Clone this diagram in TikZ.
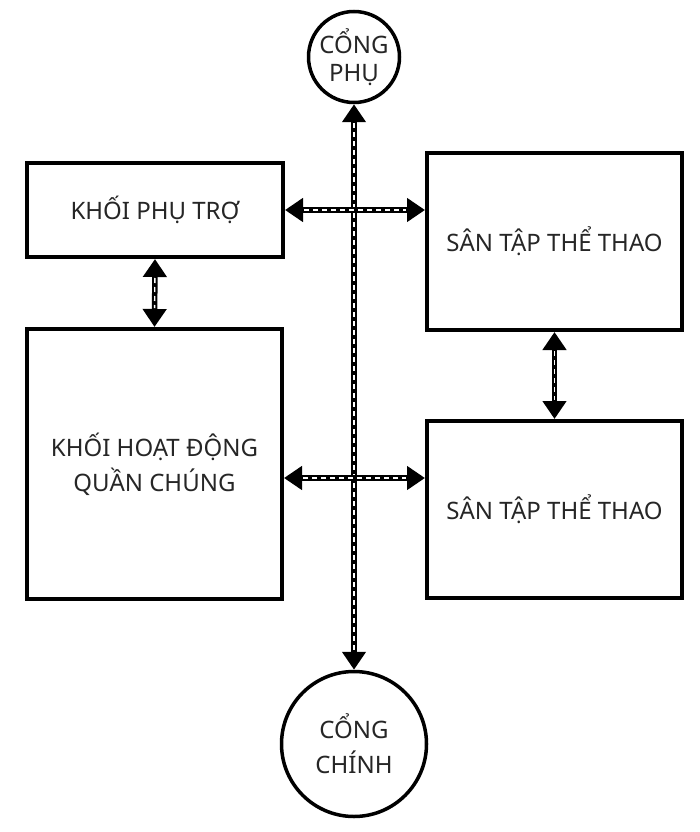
\documentclass[tikz,border=0pt]{standalone}
\usepackage{fontspec}
\setmainfont{Noto Sans}
\usetikzlibrary{arrows.meta}
\begin{document}
\begin{tikzpicture}[x=1pt,y=-1pt,
  box/.style={draw=black,line width=4pt,fill=white,align=center,inner sep=0pt,
    font=\fontsize{24}{35}\selectfont,text=black!85},
  gate/.style={draw=black,circle,line width=3.5pt,fill=white,align=center,inner sep=0pt,
    font=\fontsize{24}{35}\selectfont,text=black!85},
  link/.style={line width=5.5pt,{Triangle[length=18pt,width=23pt]}-{Triangle[length=18pt,width=23pt]}},
  linkdash/.style={white,line width=1.4pt,dash pattern=on 5pt off 4pt,shorten <=19pt,shorten >=19pt}]
\useasboundingbox (0,0) rectangle (700,832);
\node[box,minimum width=256pt,minimum height=94pt] (ptro) at (155,210) {KHỐI PHỤ TRỢ};
\node[box,minimum width=255pt,minimum height=270pt] (hd) at (154.5,464) {KHỐI HOẠT ĐỘNG\\QUẦN CHÚNG};
\node[box,minimum width=255pt,minimum height=177pt] (san1) at (554.5,241.5) {SÂN TẬP THỂ THAO};
\node[box,minimum width=255pt,minimum height=177pt] (san2) at (554.5,509.5) {SÂN TẬP THỂ THAO};
\node[gate,minimum size=91pt,font=\fontsize{24}{28}\selectfont] (cphu) at (354,57) {CỔNG\\PHỤ};
\node[gate,minimum size=145pt] (cchinh) at (354,744) {CỔNG\\CHÍNH};
\coordinate (ylow) at (0,478);
% central line
\draw[link] (cphu.south) -- (cchinh.north);
\draw[linkdash] (cphu.south) -- (cchinh.north);
% top horizontal
\draw[link] (ptro.east) -- (ptro.east -| san1.west);
\draw[linkdash] (ptro.east) -- (ptro.east -| san1.west);
% bottom horizontal
\draw[link] (hd.east |- ylow) -- (san2.west |- ylow);
\draw[linkdash] (hd.east |- ylow) -- (san2.west |- ylow);
% left vertical
\draw[link] (ptro.south) -- (hd.north);
\draw[linkdash] (ptro.south) -- (hd.north);
% right vertical
\draw[link] (san1.south) -- (san2.north);
\draw[linkdash] (san1.south) -- (san2.north);
\end{tikzpicture}
\end{document}
